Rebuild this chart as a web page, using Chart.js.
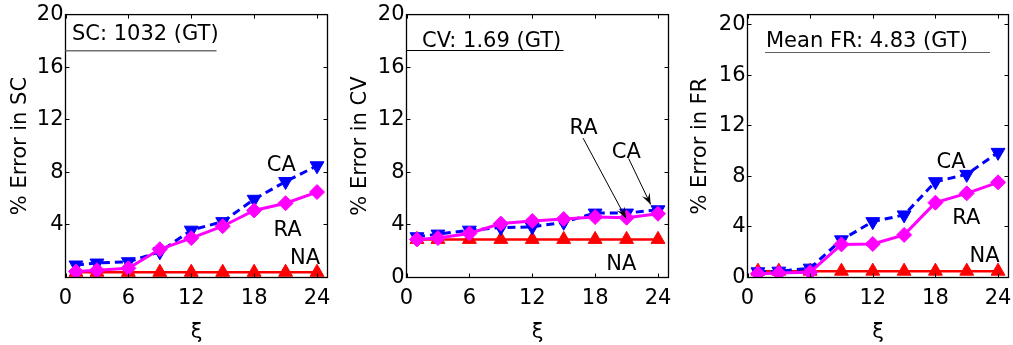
<!DOCTYPE html>
<html><head><meta charset="utf-8">
<script src="https://cdn.jsdelivr.net/npm/chart.js@4.4.1/dist/chart.umd.min.js"></script>
<style>
html,body{margin:0;padding:0;background:#fff;width:1013px;height:345px;overflow:hidden;position:relative}
canvas{position:absolute;top:0}
</style></head><body>
<canvas id="c1" width="345" height="345" style="left:0px;width:345px;height:345px"></canvas>
<canvas id="c2" width="345" height="345" style="left:340px;width:345px;height:345px"></canvas>
<canvas id="c3" width="345" height="345" style="left:680px;width:345px;height:345px"></canvas>
<script>
// ---- data ----
const xi = [1, 3, 6, 9, 12, 15, 18, 21, 24];
const xTickValues = [0, 6, 12, 18, 24];
const yTickValues = [0, 4, 8, 12, 16, 20];

const scCA = [0.95, 1.1, 1.2, 1.95, 3.6, 4.25, 5.95, 7.3, 8.5];
const scRA = [0.45, 0.55, 0.7, 2.15, 3.0, 3.9, 5.1, 5.65, 6.5];
const scNA = [0.4, 0.4, 0.4, 0.4, 0.4, 0.4, 0.4, 0.4, 0.4];

const cvCA = [3.1, 3.3, 3.6, 3.8, 3.85, 4.2, 4.9, 4.9, 5.15];
const cvRA = [2.9, 3.0, 3.35, 4.1, 4.3, 4.45, 4.6, 4.55, 4.85];
const cvNA = [2.9, 2.9, 2.9, 2.9, 2.9, 2.9, 2.9, 2.9, 2.9];

const frCA = [0.45, 0.5, 0.74, 2.98, 4.42, 4.95, 7.58, 8.16, 9.9];
const frRA = [0.3, 0.35, 0.42, 2.62, 2.65, 3.37, 5.92, 6.66, 7.53];
const frNA = [0.5, 0.5, 0.5, 0.5, 0.5, 0.5, 0.5, 0.5, 0.5];

const seriesNames = ['RA', 'CA', 'NA'];
const yTitles = ['% Error in SC', '% Error in CV', '% Error in FR'];
const boxTitles = ['SC: 1032 (GT)', 'CV: 1.69 (GT)', 'Mean FR: 4.83 (GT)'];

const FONT = '"DejaVu Sans", "Liberation Sans", Arial, sans-serif';
Chart.defaults.font.family = FONT;
Chart.defaults.color = '#000';

function pts(arr) { return xi.map((x, i) => ({x: x, y: arr[i]})); }

function makePanel(id, cfg) {
  const H = 345, TOP = 14.5, BOTTOM = 277.5;
  const overlay = {
    id: 'overlay' + id,
    afterDraw(chart) {
      const ctx = chart.ctx, a = chart.chartArea;
      const xs = chart.scales.x, ys = chart.scales.y;
      ctx.save();
      // frame
      ctx.strokeStyle = '#000'; ctx.lineWidth = 1.3;
      ctx.strokeRect(a.left, a.top, a.right - a.left, a.bottom - a.top);
      // inward ticks
      const tl = 4;
      ctx.lineWidth = 1;
      ctx.beginPath();
      xTickValues.forEach(v => {
        const p = Math.round(xs.getPixelForValue(v)) + 0.5;
        ctx.moveTo(p, a.bottom); ctx.lineTo(p, a.bottom - tl);
        ctx.moveTo(p, a.top); ctx.lineTo(p, a.top + tl);
      });
      yTickValues.forEach(v => {
        const p = Math.round(ys.getPixelForValue(v) - 0.5) + 0.5;
        ctx.moveTo(a.left, p); ctx.lineTo(a.left + tl, p);
        ctx.moveTo(a.right, p); ctx.lineTo(a.right - tl, p);
      });
      ctx.stroke();
      // title box
      ctx.font = '21px ' + FONT;
      ctx.fillStyle = '#000';
      ctx.textAlign = 'left'; ctx.textBaseline = 'alphabetic';
      ctx.fillText(cfg.boxTitle, cfg.titleX, cfg.titleBase);
      ctx.strokeStyle = cfg.lineColor; ctx.lineWidth = cfg.lineWidth;
      ctx.beginPath();
      ctx.moveTo(cfg.lineX0, cfg.lineY); ctx.lineTo(cfg.lineX1, cfg.lineY);
      ctx.stroke();
      // series labels
      ctx.textAlign = 'center'; ctx.textBaseline = 'middle';
      cfg.labels.forEach(l => {
        ctx.fillText(l.t, xs.getPixelForValue(l.x), ys.getPixelForValue(l.y));
      });
      // arrows
      ctx.strokeStyle = '#000'; ctx.fillStyle = '#000'; ctx.lineWidth = 1;
      (cfg.arrows || []).forEach(ar => {
        const x0 = xs.getPixelForValue(ar.x0), y0 = ys.getPixelForValue(ar.y0);
        const x1 = xs.getPixelForValue(ar.x1), y1 = ys.getPixelForValue(ar.y1);
        const ang = Math.atan2(y1 - y0, x1 - x0);
        ctx.beginPath(); ctx.moveTo(x0, y0); ctx.lineTo(x1, y1); ctx.stroke();
        const L = 12, w = 0.36;
        ctx.beginPath();
        ctx.moveTo(x1, y1);
        ctx.lineTo(x1 - L * Math.cos(ang - w), y1 - L * Math.sin(ang - w));
        ctx.lineTo(x1 - 0.55 * L * Math.cos(ang), y1 - 0.55 * L * Math.sin(ang));
        ctx.lineTo(x1 - L * Math.cos(ang + w), y1 - L * Math.sin(ang + w));
        ctx.closePath(); ctx.fill();
      });
      ctx.restore();
    }
  };

  return new Chart(document.getElementById(id), {
    type: 'line',
    data: {
      datasets: [
        {label: seriesNames[0], data: pts(cfg.ra), borderColor: '#ff00ff', backgroundColor: '#ff00ff',
         borderWidth: 3, pointStyle: 'rectRot', pointRadius: 7.5, pointBorderWidth: 1, tension: 0},
        {label: seriesNames[1], data: pts(cfg.ca), borderColor: '#0000ff', backgroundColor: '#0000ff',
         borderWidth: 3, borderDash: [8, 5], pointStyle: 'triangle', pointRotation: 180, pointRadius: 8,
         pointBorderWidth: 1, tension: 0},
        {label: seriesNames[2], data: pts(cfg.na), borderColor: '#ff0000', backgroundColor: '#ff0000',
         borderWidth: 2.5, pointStyle: 'triangle', pointRadius: 8, pointBorderWidth: 1, tension: 0}
      ]
    },
    options: {
      responsive: false, animation: false, events: [],
      devicePixelRatio: 1,
      layout: {padding: {left: 0, right: 345 - cfg.right, top: TOP, bottom: 0}},
      plugins: {legend: {display: false}, tooltip: {enabled: false}},
      scales: {
        x: {
          type: 'linear', min: 0, max: 25,
          afterBuildTicks: s => { s.ticks = xTickValues.map(v => ({value: v})); },
          afterFit: s => { s.height = H - BOTTOM; },
          grid: {display: false, drawTicks: false}, border: {display: false},
          ticks: {padding: 8, font: {size: 21}, color: '#000', maxRotation: 0, autoSkip: false},
          title: {display: true, text: 'ξ', font: {size: 21}, color: '#000', padding: {top: 0, bottom: 0}}
        },
        y: {
          type: 'linear', min: 0, max: cfg.ymax,
          afterBuildTicks: s => { s.ticks = yTickValues.map(v => ({value: v})); },
          afterFit: s => { s.width = cfg.left; },
          grid: {display: false, drawTicks: false}, border: {display: false},
          ticks: {padding: 2, font: {size: 21}, color: '#000', autoSkip: false,
                  callback: v => (cfg.hideZero && v === 0) ? '' : String(v)},
          title: {display: true, text: cfg.yTitle, font: {size: 21}, color: '#000', padding: {top: 8, bottom: 0}}
        }
      }
    },
    plugins: [overlay]
  });
}

makePanel('c1', {
  ca: scCA, ra: scRA, na: scNA, yTitle: yTitles[0], boxTitle: boxTitles[0],
  left: 65.5, right: 327.5, ymax: 20, hideZero: true,
  titleX: 72, titleBase: 40, lineX0: 65.5, lineX1: 216.5, lineY: 50.75, lineColor: '#707070', lineWidth: 1.5,
  labels: [{t: 'CA', x: 20.6, y: 8.5}, {t: 'RA', x: 21.2, y: 3.6}, {t: 'NA', x: 22.85, y: 1.46}]
});
makePanel('c2', {
  ca: cvCA, ra: cvRA, na: cvNA, yTitle: yTitles[1], boxTitle: boxTitles[1],
  left: 66.5, right: 328.5, ymax: 20, hideZero: false,
  titleX: 82, titleBase: 46.5, lineX0: 66.5, lineX1: 223.5, lineY: 50.5, lineColor: '#000', lineWidth: 1,
  labels: [{t: 'RA', x: 16.9, y: 11.35}, {t: 'CA', x: 20.97, y: 9.5}, {t: 'NA', x: 20.5, y: 0.95}],
  arrows: [{x0: 16.85, y0: 10.6, x1: 20.95, y1: 4.5}, {x0: 21.2, y0: 9.05, x1: 23.3, y1: 5.55}]
});
makePanel('c3', {
  ca: frCA, ra: frRA, na: frNA, yTitle: yTitles[2], boxTitle: boxTitles[2],
  left: 67.5, right: 328.5, ymax: 20.8, hideZero: false,
  titleX: 86, titleBase: 46.5, lineX0: 85, lineX1: 310, lineY: 52.5, lineColor: '#606060', lineWidth: 1.2,
  labels: [{t: 'CA', x: 19.5, y: 9.06}, {t: 'RA', x: 20.96, y: 4.67}, {t: 'NA', x: 22.7, y: 1.64}]
});
</script>
</body></html>
